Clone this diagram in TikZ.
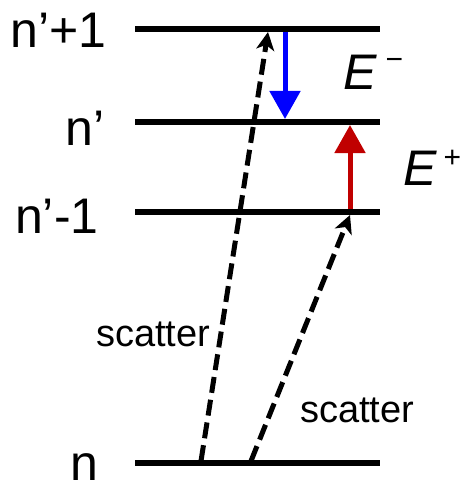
\documentclass[tikz,border=0pt]{standalone}
\usepackage{fontspec}
\setmainfont{Liberation Sans}
\usetikzlibrary{arrows.meta}
\definecolor{upred}{RGB}{192,0,0}
\definecolor{downblue}{RGB}{0,0,255}
\tikzset{
  level/.style={line width=6pt},
  lbl/.style={inner sep=0pt, anchor=base west, font=\fontsize{50}{50}\selectfont},
  elbl/.style={inner sep=0pt, anchor=base west, font=\fontsize{50}{50}\selectfont\itshape},
  slbl/.style={inner sep=0pt, anchor=base west, font=\fontsize{38}{38}\selectfont},
  scat/.style={line width=5pt, dash pattern=on 16pt off 7pt, -{Stealth[length=18pt,width=18pt,inset=5pt]}},
  trans/.style={line width=5pt, -{Triangle[length=28pt,width=30pt]}}
}
\begin{document}
\begin{tikzpicture}[x=1pt,y=-1pt]
\useasboundingbox (0,0) rectangle (467,484);
% levels
\coordinate (a3) at (135,29);  \coordinate (b3) at (380,29);
\coordinate (a2) at (135,122); \coordinate (b2) at (380,122);
\coordinate (a1) at (135,212); \coordinate (b1) at (380,212);
\coordinate (a0) at (135,463); \coordinate (b0) at (380,463);
\draw[level] (a3) -- (b3);
\draw[level] (a2) -- (b2);
\draw[level] (a1) -- (b1);
\draw[level] (a0) -- (b0);
% level labels
\node[lbl] (l3) at (10,48) {n’+1};
\node[lbl] (l2) at (65,145) {n’};
\node[lbl] (l1) at (15,233) {n’-1};
\node[lbl] (l0) at (70,480) {n};
% transitions
\coordinate (bs) at (285,32);  \coordinate (be) at (285,119);
\coordinate (rs) at (350,209); \coordinate (re) at (350,125);
\draw[trans, draw=downblue, fill=downblue] (bs) -- (be);
\draw[trans, draw=upred, fill=upred] (rs) -- (re);
% scatter arrows
\coordinate (s1s) at (201,461); \coordinate (s1e) at (268,32);
\coordinate (s2s) at (251,461); \coordinate (s2e) at (350,215);
\draw[scat] (s1s) -- (s1e);
\draw[scat] (s2s) -- (s2e);
% energy labels
\node[elbl] (em) at (343,90) {E\hspace{9pt}\raisebox{20pt}{\upshape\fontsize{30}{30}\selectfont −}};
\node[elbl] (ep) at (403,185) {E\hspace{7pt}\raisebox{18pt}{\upshape\fontsize{30}{30}\selectfont +}};
% scatter labels
\node[slbl] (sc1) at (96,346) {scatter};
\node[slbl] (sc2) at (300,422) {scatter};
\end{tikzpicture}
\end{document}
